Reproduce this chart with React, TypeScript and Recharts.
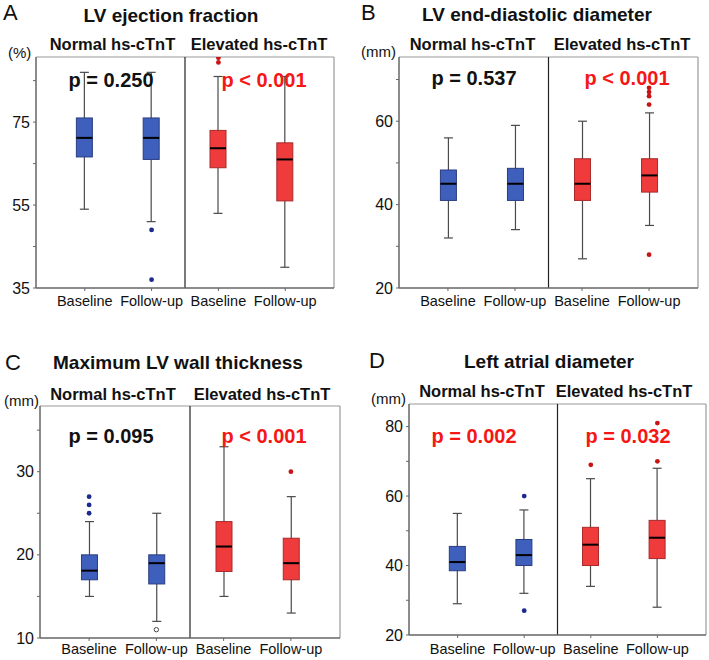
import { Bar, ComposedChart, ReferenceLine, Scatter, XAxis, YAxis } from "recharts";

const FONT = "'Liberation Sans', Arial, Helvetica, sans-serif";
const BLUE = "#3f5fbd";
const BLUE_EDGE = "#2a3d80";
const RED = "#ef3b3b";
const RED_EDGE = "#a82a2a";
const P_RED = "#f51616";

const timepoints = ["Baseline", "Follow-up", "Baseline", "Follow-up"];
const positions = [1, 2, 3, 4];
const groupNames = ["Normal hs-cTnT", "Elevated hs-cTnT"];

// A: LV ejection fraction (%)
const efLow = [54, 51, 53, 40];
const efQ1 = [66.6, 66, 64, 56];
const efMedian = [71.2, 71.2, 68.7, 66];
const efQ3 = [76, 76, 73, 70];
const efHigh = [87, 87, 86, 86];
const efOutliers = [[], [49, 37], [90.5, 89.4], []];
const efTicks = [35, 45, 55, 65, 75, 85];
const efTickLabels = [35, 55, 75];

// B: LV end-diastolic diameter (mm)
const eddLow = [32, 34, 27, 35];
const eddQ1 = [41, 41, 41, 43];
const eddMedian = [45, 45, 45, 47];
const eddQ3 = [48.3, 48.7, 51, 51];
const eddHigh = [56, 59, 60, 62];
const eddOutliers = [[], [], [], [28, 64, 66, 67, 68]];
const eddTicks = [20, 30, 40, 50, 60, 70];
const eddTickLabels = [20, 40, 60];

// C: maximum LV wall thickness (mm)
const wtLow = [15, 12, 15, 13];
const wtQ1 = [17, 16.5, 18, 17];
const wtMedian = [18.1, 19, 21, 19];
const wtQ3 = [20, 20, 24, 22];
const wtHigh = [24, 25, 33, 27];
const wtOutliers = [[25, 26, 27], [], [], [30]];
const wtOpenOutliers = [[], [11], [], []];
const wtTicks = [10, 15, 20, 25, 30, 35];
const wtTickLabels = [10, 20, 30];

// D: left atrial diameter (mm)
const laLow = [29, 32, 34, 28];
const laQ1 = [38.5, 40, 40, 42];
const laMedian = [41, 43, 46, 48];
const laQ3 = [45.5, 47.5, 51, 53];
const laHigh = [55, 56, 65, 68];
const laOutliers = [[], [60, 27], [69], [70, 81]];
const laTicks = [20, 30, 40, 50, 60, 70, 80];
const laTickLabels = [20, 40, 60, 80];

const X_DOMAIN = [0.27, 4.73];

type Panel = {
  letter: string;
  title: string;
  unit: string;
  low: number[];
  q1: number[];
  median: number[];
  q3: number[];
  high: number[];
  outliers: number[][];
  openOutliers?: number[][];
  ticks: number[];
  tickLabels: number[];
  yDomain: number[];
  pValues: string[];
  pColors: string[];
  // layout
  chartLeft: number;
  chartTop: number;
  plot: { left: number; right: number; top: number; bottom: number };
  labelDy: number;
  letterPos: number[];
  titlePos: number[];
  groupY: number;
  groupX: number[];
  unitPos: number[];
  pY: number;
  pX: number[];
};

const panels: Panel[] = [
  {
    letter: "A", title: "LV ejection fraction", unit: "(%)",
    low: efLow, q1: efQ1, median: efMedian, q3: efQ3, high: efHigh, outliers: efOutliers,
    ticks: efTicks, tickLabels: efTickLabels, yDomain: [35, 90.7],
    pValues: ["p = 0.250", "p < 0.001"], pColors: ["#111", P_RED],
    chartLeft: 0, chartTop: 0, plot: { left: 36, right: 334, top: 57, bottom: 288 }, labelDy: 18,
    letterPos: [3, 20], titlePos: [171, 22], groupY: 50, groupX: [112.5, 259], unitPos: [8, 58],
    pY: 87, pX: [111, 264],
  },
  {
    letter: "B", title: "LV end-diastolic diameter", unit: "(mm)",
    low: eddLow, q1: eddQ1, median: eddMedian, q3: eddQ3, high: eddHigh, outliers: eddOutliers,
    ticks: eddTicks, tickLabels: eddTickLabels, yDomain: [20, 75.4],
    pValues: ["p = 0.537", "p < 0.001"], pColors: ["#111", P_RED],
    chartLeft: 354, chartTop: 0, plot: { left: 399, right: 698, top: 57, bottom: 288 }, labelDy: 18,
    letterPos: [361, 20], titlePos: [537, 21], groupY: 50, groupX: [472.5, 622], unitPos: [361, 57],
    pY: 85, pX: [474, 627],
  },
  {
    letter: "C", title: "Maximum LV wall thickness", unit: "(mm)",
    low: wtLow, q1: wtQ1, median: wtMedian, q3: wtQ3, high: wtHigh, outliers: wtOutliers, openOutliers: wtOpenOutliers,
    ticks: wtTicks, tickLabels: wtTickLabels, yDomain: [10, 37.9],
    pValues: ["p = 0.095", "p < 0.001"], pColors: ["#111", P_RED],
    chartLeft: 0, chartTop: 330, plot: { left: 40, right: 340, top: 406, bottom: 638 }, labelDy: 16,
    letterPos: [5, 370], titlePos: [178, 369], groupY: 400, groupX: [113, 262], unitPos: [4, 406],
    pY: 443, pX: [111, 264],
  },
  {
    letter: "D", title: "Left atrial diameter", unit: "(mm)",
    low: laLow, q1: laQ1, median: laMedian, q3: laQ3, high: laHigh, outliers: laOutliers,
    ticks: laTicks, tickLabels: laTickLabels, yDomain: [20, 86.5],
    pValues: ["p = 0.002", "p = 0.032"], pColors: [P_RED, P_RED],
    chartLeft: 354, chartTop: 330, plot: { left: 409, right: 706, top: 404, bottom: 635 }, labelDy: 19,
    letterPos: [369, 368], titlePos: [549, 368], groupY: 397, groupX: [482, 624], unitPos: [371, 404],
    pY: 443, pX: [474, 628],
  },
];

const CHART_W = 355;
const CHART_H = 330;
const Y_AXIS_W = 30;
const X_AXIS_H = 20;

function BoxShape(props: any) {
  const { x, y, width, height, payload, index } = props;
  const [lo, hi] = payload.range;
  const top = Math.min(y, y + height);
  const h = Math.abs(height);
  const py = (v: number) => top + h - ((v - lo) / (hi - lo)) * h;
  const cx = x + width / 2;
  const cap = 4.5;
  const fill = index < 2 ? BLUE : RED;
  const edge = index < 2 ? BLUE_EDGE : RED_EDGE;
  return (
    <g>
      <line x1={cx} x2={cx} y1={py(hi)} y2={py(lo)} stroke="#4a4a4a" strokeWidth={1.2} />
      <line x1={cx - cap} x2={cx + cap} y1={py(hi)} y2={py(hi)} stroke="#4a4a4a" strokeWidth={1.2} />
      <line x1={cx - cap} x2={cx + cap} y1={py(lo)} y2={py(lo)} stroke="#4a4a4a" strokeWidth={1.2} />
      <rect x={x} y={py(payload.q3)} width={width} height={py(payload.q1) - py(payload.q3)} fill={fill} stroke={edge} strokeWidth={1} />
      <line x1={x} x2={x + width} y1={py(payload.median)} y2={py(payload.median)} stroke="#000" strokeWidth={2} />
    </g>
  );
}

function YTick(props: any) {
  const { x, y, payload, labels } = props;
  const major = labels.includes(payload.value);
  return (
    <g>
      <line x1={x - 3} x2={x} y1={y} y2={y} stroke="#666" strokeWidth={1} />
      {major && (
        <text x={x - 6} y={y + 5.5} textAnchor="end" fontSize={16} fontFamily={FONT} fill="#111">
          {payload.value}
        </text>
      )}
    </g>
  );
}

function XTick(props: any) {
  const { x, y, payload, dy } = props;
  return (
    <g>
      <line x1={x} x2={x} y1={y} y2={y + 3} stroke="#666" strokeWidth={1} />
      <text x={x} y={y + dy} textAnchor="middle" fontSize={14.5} fontFamily={FONT} fill="#111">
        {timepoints[payload.value - 1]}
      </text>
    </g>
  );
}

function PanelChart({ p }: { p: Panel }) {
  const rows = positions.map((pos, i) => ({
    pos,
    range: [p.low[i], p.high[i]],
    q1: p.q1[i],
    median: p.median[i],
    q3: p.q3[i],
  }));
  const blueDots = positions.slice(0, 2).flatMap((pos, i) => p.outliers[i].map((v) => ({ pos, v })));
  const redDots = positions.slice(2).flatMap((pos, i) => p.outliers[i + 2].map((v) => ({ pos, v })));
  const openDots = p.openOutliers
    ? positions.flatMap((pos, i) => p.openOutliers![i].map((v) => ({ pos, v })))
    : [];
  const margin = {
    left: p.plot.left - p.chartLeft - Y_AXIS_W,
    right: p.chartLeft + CHART_W - p.plot.right,
    top: p.plot.top - p.chartTop,
    bottom: p.chartTop + CHART_H - p.plot.bottom - X_AXIS_H,
  };
  return (
    <div style={{ position: "absolute", left: p.chartLeft, top: p.chartTop }}>
      <ComposedChart width={CHART_W} height={CHART_H} data={rows} margin={margin}>
        <XAxis
          dataKey="pos"
          type="number"
          domain={X_DOMAIN}
          ticks={positions}
          interval={0}
          allowDataOverflow
          height={X_AXIS_H}
          axisLine={{ stroke: "#666", strokeWidth: 1.5 }}
          tickLine={false}
          tickSize={0}
          tickMargin={0}
          tick={<XTick dy={p.labelDy} />}
        />
        <YAxis
          type="number"
          domain={p.yDomain}
          ticks={p.ticks}
          interval={0}
          allowDataOverflow
          width={Y_AXIS_W}
          axisLine={{ stroke: "#666", strokeWidth: 1.5 }}
          tickLine={false}
          tickSize={0}
          tickMargin={0}
          tick={<YTick labels={p.tickLabels} />}
        />
        <ReferenceLine y={p.yDomain[1]} stroke="#999" strokeWidth={1.2} />
        <ReferenceLine x={X_DOMAIN[1]} stroke="#999" strokeWidth={1.2} />
        <ReferenceLine x={2.5} stroke="#222" strokeWidth={1.2} />
        <Bar dataKey="range" barSize={16} isAnimationActive={false} shape={<BoxShape />} />
        <Scatter data={blueDots} dataKey="v" isAnimationActive={false}
          shape={(s: any) => <circle cx={s.cx} cy={s.cy} r={2.4} fill="#1c2a8c" />} />
        <Scatter data={redDots} dataKey="v" isAnimationActive={false}
          shape={(s: any) => <circle cx={s.cx} cy={s.cy} r={2.4} fill="#c81414" />} />
        <Scatter data={openDots} dataKey="v" isAnimationActive={false}
          shape={(s: any) => <circle cx={s.cx} cy={s.cy} r={2.2} fill="#fff" stroke="#333" strokeWidth={0.9} />} />
      </ComposedChart>
    </div>
  );
}

export default function App() {
  return (
    <div style={{ position: "absolute", left: 0, top: 0, width: 709, height: 660, background: "#fff" }}>
      {panels.map((p) => (
        <PanelChart key={p.letter} p={p} />
      ))}
      <svg width={709} height={660} style={{ position: "absolute", left: 0, top: 0, pointerEvents: "none" }} fontFamily={FONT}>
        {panels.map((p) => (
          <g key={p.letter}>
            <text x={p.letterPos[0]} y={p.letterPos[1]} fontSize={22} fill="#111">{p.letter}</text>
            <text x={p.titlePos[0]} y={p.titlePos[1]} fontSize={19} fontWeight="bold" textAnchor="middle" fill="#111">{p.title}</text>
            {groupNames.map((g, i) => (
              <text key={g} x={p.groupX[i]} y={p.groupY} fontSize={16.5} fontWeight="bold" textAnchor="middle" fill="#111">{g}</text>
            ))}
            <text x={p.unitPos[0]} y={p.unitPos[1]} fontSize={15} fill="#111">{p.unit}</text>
            {p.pValues.map((t, i) => (
              <text key={i} x={p.pX[i]} y={p.pY} fontSize={20} fontWeight="bold" textAnchor="middle" fill={p.pColors[i]}>{t}</text>
            ))}
          </g>
        ))}
      </svg>
    </div>
  );
}
